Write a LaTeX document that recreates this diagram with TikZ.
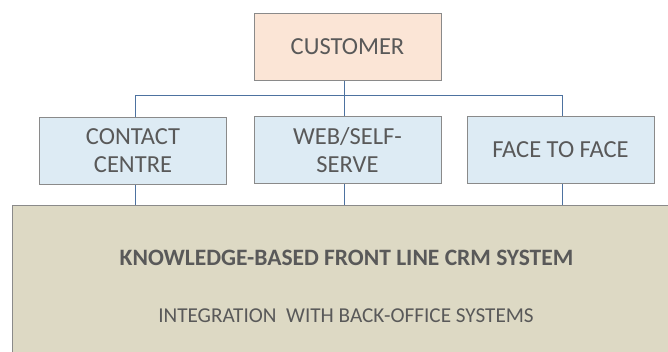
\documentclass[tikz,border=0pt]{standalone}
\usepackage{fontspec}
\setmainfont{Carlito}
\definecolor{txt}{HTML}{595959}
\definecolor{edge}{HTML}{8A8A8A}
\definecolor{wire}{HTML}{4D72A0}
\definecolor{peach}{HTML}{FBE5D6}
\definecolor{lblue}{HTML}{DDEBF4}
\definecolor{tan}{HTML}{DDD9C4}
\begin{document}
\begin{tikzpicture}[x=1pt,y=-1pt,
  box/.style={draw=edge,line width=1pt,text=txt,align=center,inner sep=0pt,
    minimum width=187pt,minimum height=67pt,font=\fontsize{24.5}{28}\selectfont},
  wirel/.style={draw=wire,line width=0.9pt}]
\useasboundingbox (0,0) rectangle (668,351);
\fill[white] (0,0) rectangle (668,351);
\node[box,fill=peach] (cust) at (347.5,46.5) {CUSTOMER};
\node[box,fill=lblue] (cc) at (133,151) {CONTACT\\CENTRE};
\node[box,fill=lblue] (web) at (347.5,150) {WEB/SELF-\\SERVE};
\node[box,fill=lblue] (f2f) at (560.5,150) {FACE TO FACE};
\draw[draw=edge,line width=1pt,fill=tan] (12,205) rectangle (680,360);
\node[text=txt,font=\fontsize{23.5}{26}\selectfont\bfseries] (kb) at (346.5,258) {KNOWLEDGE-BASED FRONT LINE CRM SYSTEM};
\node[text=txt,font=\fontsize{21.2}{24}\selectfont] (integ) at (346,316) {INTEGRATION\ \ WITH BACK-OFFICE SYSTEMS};
\coordinate (bus) at (344,95);
\coordinate (busl) at (135,95);
\coordinate (busr) at (562,95);
\coordinate (topsys) at (0,205);
\draw[wirel] (cust.south -| bus) -- (web.north -| bus);
\draw[wirel] (cc.north -| busl) -- (busl) -- (busr) -- (f2f.north -| busr);
\draw[wirel] (cc.south -| busl) -- (topsys -| busl);
\draw[wirel] (web.south -| bus) -- (topsys -| bus);
\draw[wirel] (f2f.south -| busr) -- (topsys -| busr);
\end{tikzpicture}
\end{document}
